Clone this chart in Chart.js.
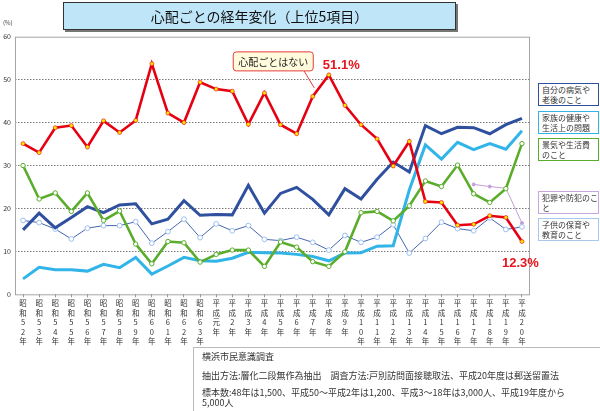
<!DOCTYPE html>
<html>
<head>
<meta charset="utf-8">
<script src="https://cdn.jsdelivr.net/npm/chart.js@4.4.1/dist/chart.umd.min.js"></script>
<style>
  html,body{margin:0;padding:0;background:#fff;overflow:hidden;}
  body{width:600px;height:411px;position:relative;font-family:"Noto Sans CJK JP","Noto Sans",sans-serif;color:#222;}
  #wrap{position:absolute;left:0;top:0;width:600px;height:411px;}
  #title{position:absolute;left:63px;top:2px;width:391px;height:26px;background:#bfe5f9;border:1px solid #333;box-shadow:2px 2px 0 #777;
    font-size:14px;line-height:26px;text-align:center;color:#111;}
  #pct{position:absolute;left:3px;top:18px;font-size:6px;color:#444;}
  .lg{position:absolute;left:538px;width:54px;height:19px;padding:1px 2px 1px 3px;font-size:8px;line-height:10px;background:#fff;border:1.6px solid;color:#333;white-space:nowrap;}
  #notes{position:absolute;left:193px;top:347px;width:440px;height:80px;border:1px solid #bbb;font-size:9px;color:#333;}
  #notes p{margin:0;position:absolute;left:8px;line-height:9px;white-space:nowrap;}
</style>
</head>
<body>
<div id="wrap"><canvas id="c" width="600" height="411"></canvas></div>
<div id="title">心配ごとの経年変化（上位5項目）</div>
<div id="pct">(%)</div>
<div class="lg" style="top:83px;border-color:#2f4f9f;">自分の病気や<br>老後のこと</div>
<div class="lg" style="top:111px;border-color:#31b4e8;">家族の健康や<br>生活上の問題</div>
<div class="lg" style="top:138px;border-color:#5aad2b;">景気や生活費<br>のこと</div>
<div class="lg" style="top:191px;border-color:#c8a8dc;">犯罪や防犯のこ<br>と</div>
<div class="lg" style="top:218px;border-color:#a8c8ee;">子供の保育や<br>教育のこと</div>
<div id="notes">
  <p style="top:3.5px;">横浜市民意識調査</p>
  <p style="top:22.5px;">抽出方法:層化二段無作為抽出　調査方法:戸別訪問面接聴取法、平成20年度は郵送留置法</p>
  <p style="top:40px;">標本数:48年は1,500、平成50～平成2年は1,200、平成3～18年は3,000人、平成19年度から</p>
  <p style="top:49.5px;">5,000人</p>
</div>
<script>
const years = ['昭和52年','昭和53年','昭和54年','昭和55年','昭和56年','昭和57年','昭和58年','昭和59年','昭和60年','昭和61年','昭和62年','昭和63年',
  '平成元年','平成2年','平成3年','平成4年','平成5年','平成6年','平成7年','平成8年','平成9年','平成10年','平成11年','平成12年',
  '平成13年','平成14年','平成15年','平成16年','平成17年','平成18年','平成19年','平成20年'];

const noWorry   = [35.1,33.0,38.8,39.3,34.3,40.4,37.7,40.5,53.7,42.2,40.0,49.4,47.8,47.3,39.6,46.9,39.5,37.4,46.1,51.1,44.0,39.5,36.2,29.9,35.6,21.6,21.4,16.1,16.3,18.3,17.9,12.3];
const ownHealth = [15.0,18.9,15.5,17.9,20.4,19.0,20.8,21.1,16.4,17.5,21.8,18.4,18.6,18.5,25.4,18.9,23.5,24.9,22.1,18.5,24.6,22.2,26.8,30.8,28.5,39.3,37.4,38.9,38.8,37.4,39.5,41.0];
const family    = [3.6,6.3,5.7,5.7,5.4,7.0,6.2,8.6,4.7,6.6,8.6,7.8,7.7,8.4,9.8,9.7,9.6,9.3,8.8,7.8,9.6,9.7,11.2,11.3,24.3,34.8,31.5,35.4,33.7,35.1,33.8,38.1];
const economy   = [30.0,22.2,23.6,19.3,23.6,17.2,19.4,11.7,7.1,12.3,12.0,7.5,9.3,10.3,10.3,6.5,12.2,11.0,7.6,6.5,9.9,19.0,19.3,17.1,20.6,26.4,25.1,30.1,23.4,21.4,24.6,35.1];
const children  = [17.2,16.7,15.2,12.9,15.4,16.0,16.0,16.9,11.9,14.6,17.5,13.2,16.4,14.8,16.0,12.8,12.5,13.3,12.1,10.3,13.7,12.1,13.3,16.2,9.6,13.0,16.8,15.3,14.8,17.8,15.1,15.7];
const crime     = [null,null,null,null,null,null,null,null,null,null,null,null,null,null,null,null,null,null,null,null,null,null,null,null,null,null,null,null,25.6,25.1,24.7,16.6];

const yTicks = [0,10,20,30,40,50,60];
const calloutText = '心配ごとはない';
const peakIdx = 19, lastIdx = 31;

// vertical, one-character-per-line labels
function splitLabel(s){ return Array.from(s); }

Chart.defaults.font.family = '"Noto Sans CJK JP","Liberation Sans",sans-serif';

const annot = {
  id:'annot',
  beforeDatasetsDraw(chart){
    const {ctx, chartArea:a} = chart;
    ctx.save();
    ctx.strokeStyle = '#a6a6a6';
    ctx.lineWidth = 1;
    ctx.strokeRect(a.left+0.5, a.top+0.5, a.right-a.left-1, a.bottom-a.top);
    ctx.restore();
  },
  afterDatasetsDraw(chart){
    const ctx = chart.ctx, xs = chart.scales.x, ys = chart.scales.y;
    const ax = xs.getPixelForValue(peakIdx-1), ay = ys.getPixelForValue(noWorry[peakIdx-1]);
    ctx.save();
    // callout
    const bx = ax-80, by = ay-45, bw = 80, bh = 19;
    ctx.strokeStyle = '#e83a3a'; ctx.lineWidth = 1;
    ctx.beginPath(); ctx.moveTo(ax-9, by+bh); ctx.lineTo(ax+1.5, ay-8.5); ctx.stroke();
    ctx.fillStyle = '#fffbdc';
    ctx.beginPath(); ctx.roundRect(bx+0.5, by+0.5, bw, bh, 3); ctx.fill(); ctx.stroke();
    ctx.fillStyle = '#222'; ctx.font = '10px "Noto Sans CJK JP"';
    ctx.textAlign = 'center'; ctx.textBaseline = 'middle';
    ctx.fillText(calloutText, bx+bw/2+0.5, by+bh/2+1);
    // percent labels
    ctx.fillStyle = '#e8141c'; ctx.font = 'bold 13px "Liberation Sans",Arial,sans-serif';
    ctx.textAlign = 'left';
    const px = xs.getPixelForValue(peakIdx), py = ys.getPixelForValue(noWorry[peakIdx]);
    ctx.fillText(noWorry[peakIdx].toFixed(1)+'%', px-6, py-9.5);
    const lx = xs.getPixelForValue(lastIdx), ly = ys.getPixelForValue(noWorry[lastIdx]);
    ctx.fillText(noWorry[lastIdx].toFixed(1)+'%', lx-20, ly+21.5);
    ctx.restore();
  }
};

new Chart(document.getElementById('c'), {
  type:'line',
  data:{
    labels: years.map(splitLabel),
    datasets:[
      {label:'心配ごとはない', data:noWorry, order:0, borderColor:'#e60012', borderWidth:2.6,
        pointRadius:2, pointBackgroundColor:'#ffe600', pointBorderColor:'#e60012', pointBorderWidth:0.6},
      {label:'景気や生活費のこと', data:economy, order:1, borderColor:'#5aad2b', borderWidth:2.6,
        pointRadius:2.2, pointBackgroundColor:'#fff', pointBorderColor:'#5aad2b', pointBorderWidth:1},
      {label:'自分の病気や老後のこと', data:ownHealth, order:2, borderColor:'#2f4f9f', borderWidth:3, pointRadius:0},
      {label:'家族の健康や生活上の問題', data:family, order:3, borderColor:'#31b4e8', borderWidth:3, pointRadius:0},
      {label:'子供の保育や教育のこと', data:children, order:4, borderColor:'#4566b0', borderWidth:1,
        pointRadius:2.4, pointBackgroundColor:'#fff', pointBorderColor:'#9cbff0', pointBorderWidth:1},
      {label:'犯罪や防犯のこと', data:crime, order:5, borderColor:'#c39fd6', borderWidth:1,
        pointRadius:1.5, pointBackgroundColor:'#c39fd6', pointBorderColor:'#c39fd6'}
    ]
  },
  options:{
    responsive:false, animation:false,
    layout:{padding:{top:36.7,right:70,bottom:0,left:0}},
    plugins:{legend:{display:false}, tooltip:{enabled:false}},
    elements:{line:{tension:0}},
    scales:{
      x:{
        offset:true,
        afterFit(s){ s.height = 411-294.3; },
        grid:{display:true, drawOnChartArea:false, drawTicks:true, tickLength:3, color:'#999'},
        border:{display:false},
        ticks:{autoSkip:false, maxRotation:0, minRotation:0, padding:1, color:'#333',
          font:{size:7.5, lineHeight:1.28}}
      },
      y:{
        min:0, max:60,
        afterFit(s){ s.width = 15; },
        afterBuildTicks(s){ s.ticks = yTicks.map(v=>({value:v})); },
        grid:{drawTicks:false, color:c => (c.tick.value===0||c.tick.value===60)?'rgba(0,0,0,0)':'#7a7a7a',
          lineWidth:1},
        border:{display:false, dash:[1.5,1.5]},
        ticks:{padding:4, color:'#333', font:{size:7}}
      }
    }
  },
  plugins:[annot]
});
</script>
</body>
</html>
